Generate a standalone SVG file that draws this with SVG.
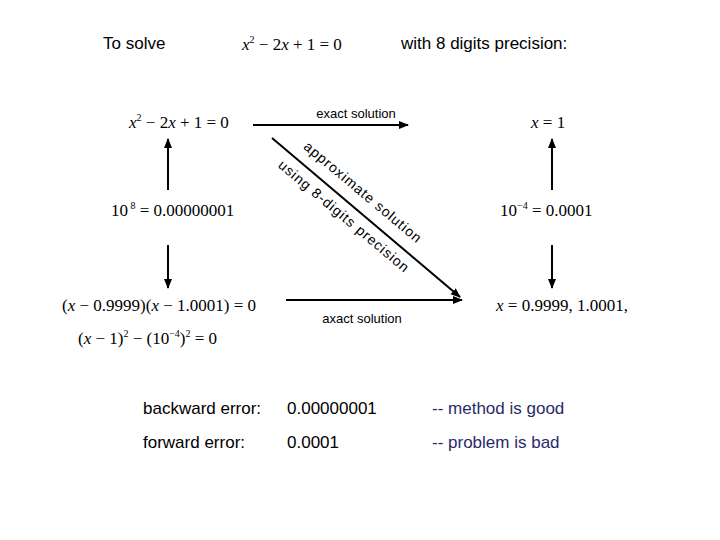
<svg xmlns="http://www.w3.org/2000/svg" width="720" height="540" viewBox="0 0 720 540">
<style>
.s{font-family:"Liberation Sans",Arial,sans-serif;font-size:17px;fill:#000}
.l{font-family:"Liberation Sans",Arial,sans-serif;font-size:13px;fill:#000}
.d{font-family:"Liberation Sans",Arial,sans-serif;font-size:14px;fill:#000;letter-spacing:1px}
.m{font-family:"Liberation Serif","Times New Roman",serif;font-size:17px;fill:#000}
.i{font-style:italic}
.c{fill:#2a2a6a}
.ln{stroke:#000;stroke-width:2;fill:none}
</style>
<defs>
<marker id="a" viewBox="0 0 10 10" refX="9" refY="5" markerWidth="5" markerHeight="5" orient="auto-start-reverse"><path d="M0,1 L10,5 L0,9 z" fill="#000"/></marker>
</defs>
<rect width="720" height="540" fill="#fff"/>
<g id="header">
<text class="s" x="103" y="49">To solve</text>
<text class="m" x="242" y="50"><tspan class="i">x</tspan><tspan font-size="10" dy="-7">2</tspan><tspan dy="7"> − 2</tspan><tspan class="i">x</tspan><tspan> + 1 = 0</tspan></text>
<text class="s" x="401" y="49">with 8 digits precision:</text>
</g>
<g id="connectors">
<line class="ln" x1="253" y1="125" x2="408" y2="125" marker-end="url(#a)"/>
<line class="ln" x1="272" y1="138" x2="460" y2="297" marker-end="url(#a)"/>
<line class="ln" x1="286" y1="300" x2="462" y2="300" marker-end="url(#a)"/>
<line class="ln" x1="168" y1="190" x2="168" y2="139" marker-end="url(#a)"/>
<line class="ln" x1="168" y1="245" x2="168" y2="288" marker-end="url(#a)"/>
<line class="ln" x1="552" y1="190" x2="552" y2="139" marker-end="url(#a)"/>
<line class="ln" x1="552" y1="245" x2="552" y2="288" marker-end="url(#a)"/>
<text class="l" x="356" y="118" text-anchor="middle">exact solution</text>
<text class="l" x="362" y="323" text-anchor="middle">axact solution</text>
<text class="d" transform="translate(360,196) rotate(40)" text-anchor="middle">approximate solution</text>
<text class="d" transform="translate(341,220) rotate(40)" text-anchor="middle">using 8-digits precision</text>
</g>
<g id="n1"><text class="m" x="129" y="128"><tspan class="i">x</tspan><tspan font-size="10" dy="-7">2</tspan><tspan dy="7"> − 2</tspan><tspan class="i">x</tspan><tspan> + 1 = 0</tspan></text></g>
<g id="n2"><text class="m" x="531" y="128"><tspan class="i">x</tspan> = 1</text></g>
<g id="n3"><text class="m" x="111" y="216">10<tspan font-size="10" dy="-7"> 8</tspan><tspan dy="7"> = 0.00000001</tspan></text></g>
<g id="n4"><text class="m" x="500" y="216">10<tspan font-size="10" dy="-7">−4</tspan><tspan dy="7"> = 0.0001</tspan></text></g>
<g id="n5"><text class="m" x="62" y="311">(<tspan class="i">x</tspan> − 0.9999)(<tspan class="i">x</tspan> − 1.0001) = 0</text>
<text class="m" x="78" y="344">(<tspan class="i">x</tspan> − 1)<tspan font-size="10" dy="-7">2</tspan><tspan dy="7"> − (10</tspan><tspan font-size="10" dy="-7">−4</tspan><tspan dy="7">)</tspan><tspan font-size="10" dy="-7">2</tspan><tspan dy="7"> = 0</tspan></text></g>
<g id="n6"><text class="m" x="496" y="311"><tspan class="i">x</tspan> = 0.9999,  1.0001,</text></g>
<g id="summary">
<text class="s" x="143" y="414">backward error:</text>
<text class="s" x="287" y="414">0.00000001</text>
<text class="s c" x="432" y="414">-- method is good</text>
<text class="s" x="143" y="448">forward error:</text>
<text class="s" x="287" y="448">0.0001</text>
<text class="s c" x="432" y="448">-- problem is bad</text>
</g>
</svg>
